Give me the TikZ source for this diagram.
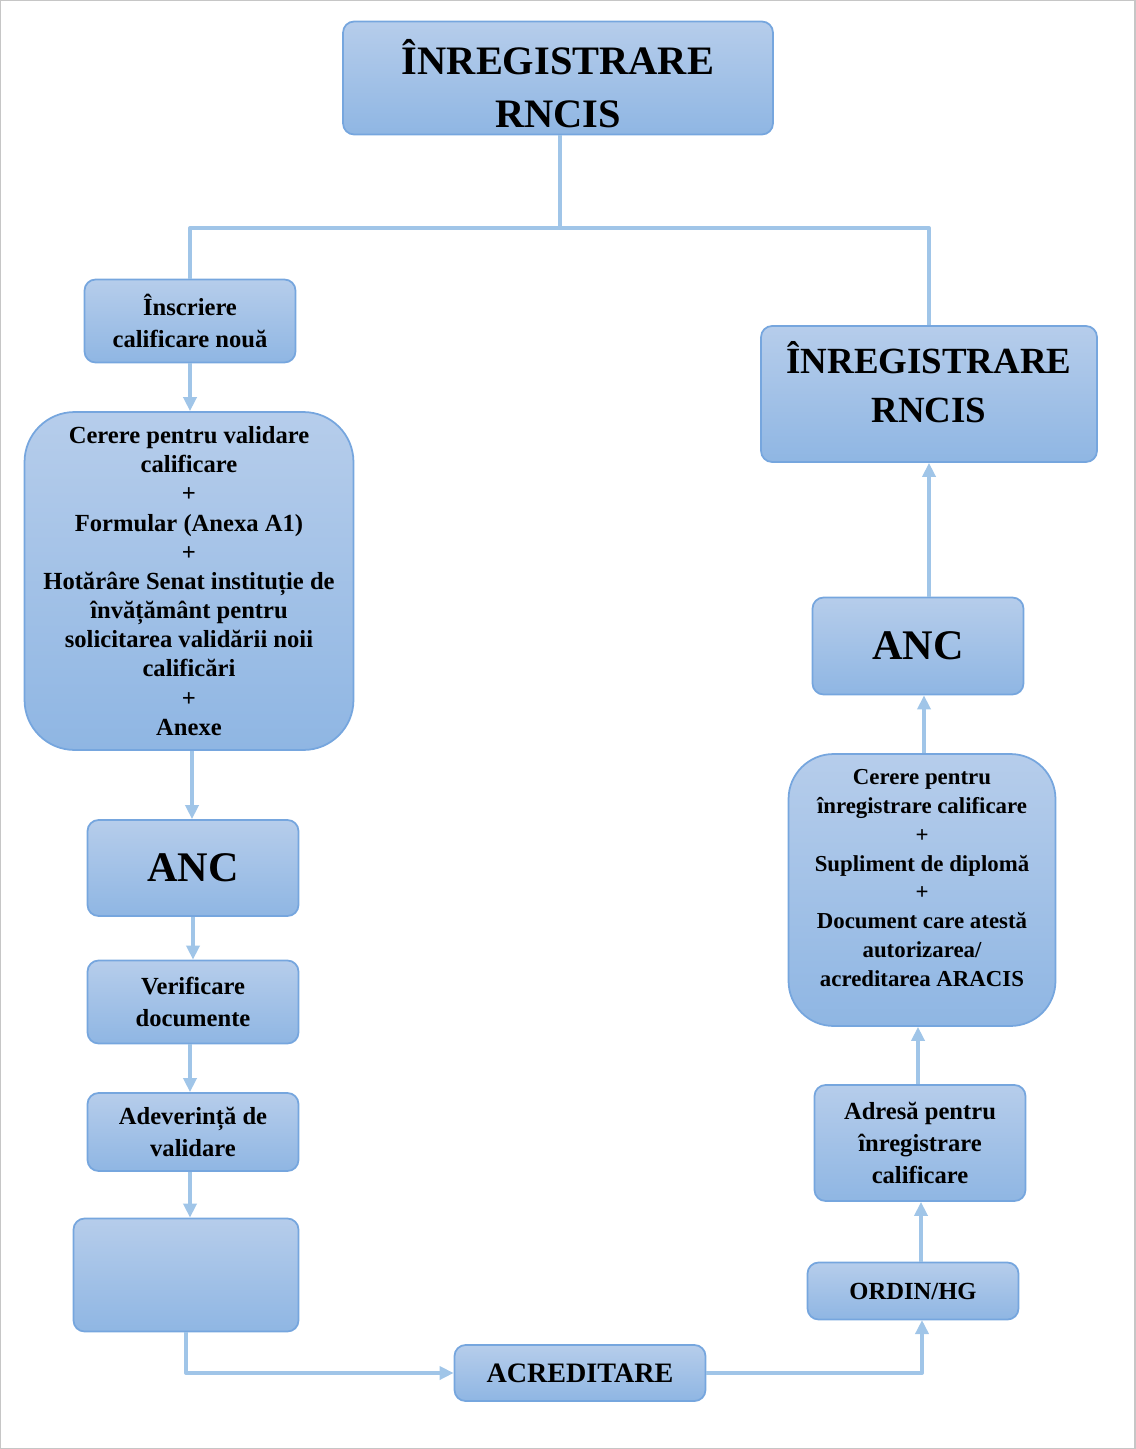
\documentclass[tikz,border=0pt]{standalone}
\usepackage{fontspec}
\setmainfont{Liberation Serif}
\usetikzlibrary{arrows.meta}
\definecolor{boxtop}{RGB}{182,205,235}
\definecolor{boxbot}{RGB}{143,182,227}
\definecolor{boxline}{RGB}{118,166,222}
\definecolor{linkc}{RGB}{160,197,232}
\begin{document}
\begin{tikzpicture}[x=0.02cm,y=-0.02cm,line join=round,
	box/.style={draw=boxline,line width=1pt,top color=boxtop,bottom color=boxbot,rounded corners=0.22cm,align=center,font=\bfseries\fontsize{14}{18}\selectfont,inner sep=0pt},
	bigbox/.style={box,rounded corners=1cm},
	txt/.style={align=center,inner sep=0pt},
	link/.style={draw=linkc,line width=2.3pt},
	arr/.style={link,-{Triangle[length=0.28cm,width=0.26cm]}}]
	%Cột trái - cột phải.
	\useasboundingbox (0,0) rectangle (1135,1449);
	\draw[gray!45,line width=1.2pt] (0,0) rectangle (1135,1449);
	{\node[box,minimum width=8.6cm,minimum height=2.26cm,font=\bfseries\fontsize{23}{30}\selectfont] (t1) at (558,78) {};
		\node[txt,font=\bfseries\fontsize{23}{30}\selectfont] (t1t) at (558,84) {ÎNREGISTRARE\\RNCIS};
		\node[box,minimum width=4.22cm,minimum height=1.66cm] (ins) at (190,321) {Înscriere\\calificare nouă};
		\node[bigbox,minimum width=6.58cm,minimum height=6.76cm,font=\bfseries\fontsize{14}{16.6}\selectfont] (cer1) at (189,581) {Cerere pentru validare\\calificare\\+\\Formular (Anexa A1)\\+\\Hotărâre Senat instituție de\\învățământ pentru\\solicitarea validării noii\\calificări\\+\\Anexe};
		\node[box,minimum width=4.22cm,minimum height=1.92cm,font=\bfseries\fontsize{24}{28}\selectfont] (anc1) at (193,868) {ANC};
		\node[box,minimum width=4.22cm,minimum height=1.66cm] (ver) at (193,1002) {Verificare\\documente};
		\node[box,minimum width=4.22cm,minimum height=1.56cm] (adev) at (193,1132) {Adeverință de\\validare};
		\node[box,minimum width=4.5cm,minimum height=2.26cm] (blank) at (186,1275) {};
		\node[box,minimum width=5.02cm,minimum height=1.12cm,font=\bfseries\fontsize{16}{18}\selectfont] (acr) at (580,1373) {ACREDITARE};
		\node[box,minimum width=4.22cm,minimum height=1.14cm] (ord) at (913,1291) {ORDIN/HG};
		\node[box,minimum width=4.22cm,minimum height=2.32cm] (adr) at (920,1143) {Adresă pentru\\înregistrare\\calificare};
		\node[bigbox,rounded corners=0.9cm,minimum width=5.34cm,minimum height=5.44cm] (cer2) at (922,890) {};
		\node[txt,font=\bfseries\fontsize{13}{16.4}\selectfont] (cer2t) at (922,878) {Cerere pentru\\înregistrare calificare\\+\\Supliment de diplomă\\+\\Document care atestă\\autorizarea/\\acreditarea ARACIS};
		\node[box,minimum width=4.22cm,minimum height=1.94cm,font=\bfseries\fontsize{24}{28}\selectfont] (anc2) at (918,646) {ANC};
		\node[box,minimum width=6.72cm,minimum height=2.72cm] (t2) at (929,394) {};
		\node[txt,font=\bfseries\fontsize{21}{28}\selectfont] (t2t) at (929,382) {ÎNREGISTRARE\\RNCIS};}
	\coordinate (j) at (560,228);
	\draw[link] (560,0 |- t1.south) -- (j);
	\draw[link] (ins.north) |- (j) -| (t2.north);
	\foreach \a/\b/\x in {ins/cer1/190,cer1/anc1/192,anc1/ver/193,ver/adev/190,adev/blank/190}
	\draw[arr] (\x,0 |- \a.south) -- (\x,0 |- \b.north);
	\foreach \a/\b/\x in {ord/adr/921,adr/cer2/918,cer2/anc2/924,anc2/t2/929}
	\draw[arr] (\x,0 |- \a.north) -- (\x,0 |- \b.south);
	\coordinate (o) at (922,1320);
	\draw[arr] (blank.south) |- (acr.west);
	\draw[arr] (acr.east) -| (o);
\end{tikzpicture}
\end{document}
